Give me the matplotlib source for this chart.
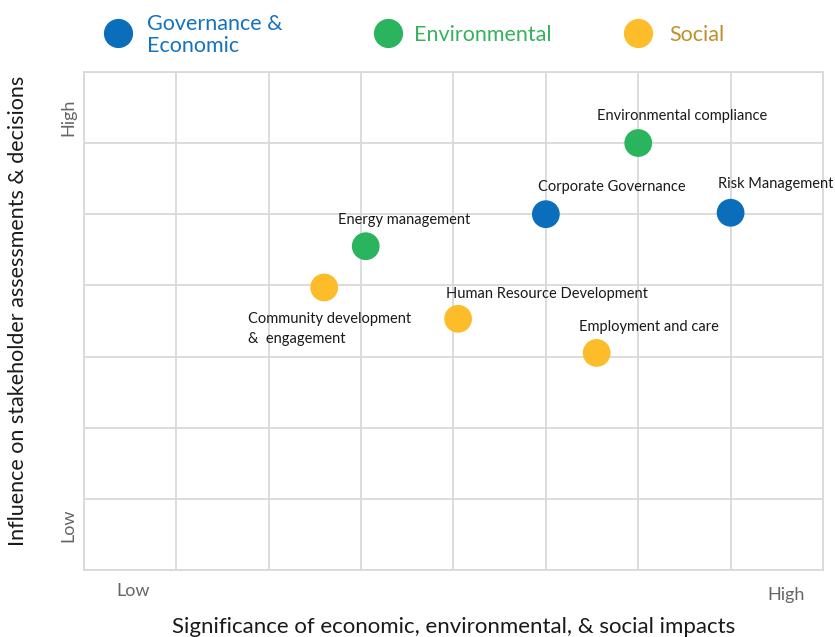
import matplotlib.pyplot as plt
from matplotlib.lines import Line2D

# topics on the materiality matrix
topics = ["Environmental compliance", "Risk Management", "Corporate Governance",
          "Energy management", "Community development\n&  engagement",
          "Human Resource Development", "Employment and care"]
significance = [6.0, 7.0, 5.0, 3.05, 2.6, 4.05, 5.55]
influence = [6.0, 5.02, 5.0, 4.55, 3.97, 3.53, 3.05]
groups = ["env", "gov", "gov", "env", "soc", "soc", "soc"]

group_names = {"gov": "Governance &\nEconomic", "env": "Environmental", "soc": "Social"}
group_colors = {"gov": "#0B6EBB", "env": "#2BB45E", "soc": "#FDBD2A"}
text_colors = {"gov": "#1472C0", "env": "#35B25C", "soc": "#BF8F2E"}

# label offsets in pixels (dx, dy) and alignment
label_pos = [(44, 27, "center"), (-13, 29, "left"), (-8, 27, "left"), (-28, 26, "left"),
             (-76, -42, "left"), (-12, 25, "left"), (-18, 26, "left")]

plt.rcParams['font.family'] = ['Lato', 'DejaVu Sans']

fig = plt.figure(figsize=(8.35, 6.37), dpi=100)
ax = fig.add_axes([0.1006, 0.1052, 0.885, 0.782])

ax.set_xlim(0, 8)
ax.set_ylim(0, 7)
ax.set_xticks(range(9))
ax.set_yticks(range(8))
ax.grid(True, color="#D9D9D9", linewidth=1.3)
ax.set_axisbelow(True)
ax.tick_params(length=0, labelbottom=False, labelleft=False)
for s in ax.spines.values():
    s.set_color("#D9D9D9")
    s.set_linewidth(1.3)

for x, y, g, name, (dx, dy, ha) in zip(significance, influence, groups, topics, label_pos):
    ax.scatter(x, y, s=400, color=group_colors[g], edgecolors="none", zorder=3)
    ax.annotate(name, (x, y), xytext=(dx * 0.72, dy * 0.72), textcoords="offset points",
                ha=ha, va="center", fontsize=10.5, color="#1A1A1A", linespacing=1.55)

# legend drawn along the top
leg_x = [118, 388, 638]
leg_text_x = [147, 414, 669]
for key, lx, tx in zip(["gov", "env", "soc"], leg_x, leg_text_x):
    fig.add_artist(Line2D([lx / 835], [1 - 33 / 637], marker="o", markersize=20,
                          color=group_colors[key], linestyle="none"))
    fig.text(tx / 835, 1 - 35 / 637, group_names[key], ha="left", va="center",
             fontsize=15.5, color=text_colors[key], linespacing=1.1)

fig.text(454 / 835, 1 - 627 / 637, "Significance of economic, environmental, & social impacts",
         ha="center", va="center", fontsize=16, color="#1A1A1A")
fig.text(18 / 835, 1 - 311 / 637, "Influence on stakeholder assessments & decisions",
         ha="center", va="center", fontsize=15.5, color="#1A1A1A", rotation=90)

fig.text(133 / 835, 1 - 591 / 637, "Low", ha="center", va="center", fontsize=13, color="#666666")
fig.text(786 / 835, 1 - 595 / 637, "High", ha="center", va="center", fontsize=13, color="#666666")
fig.text(68 / 835, 1 - 117 / 637, "High", ha="center", va="center", fontsize=13,
         color="#666666", rotation=90)
fig.text(68 / 835, 1 - 525 / 637, "Low", ha="center", va="center", fontsize=13,
         color="#666666", rotation=90)

fig.savefig("out.png", dpi=100)
